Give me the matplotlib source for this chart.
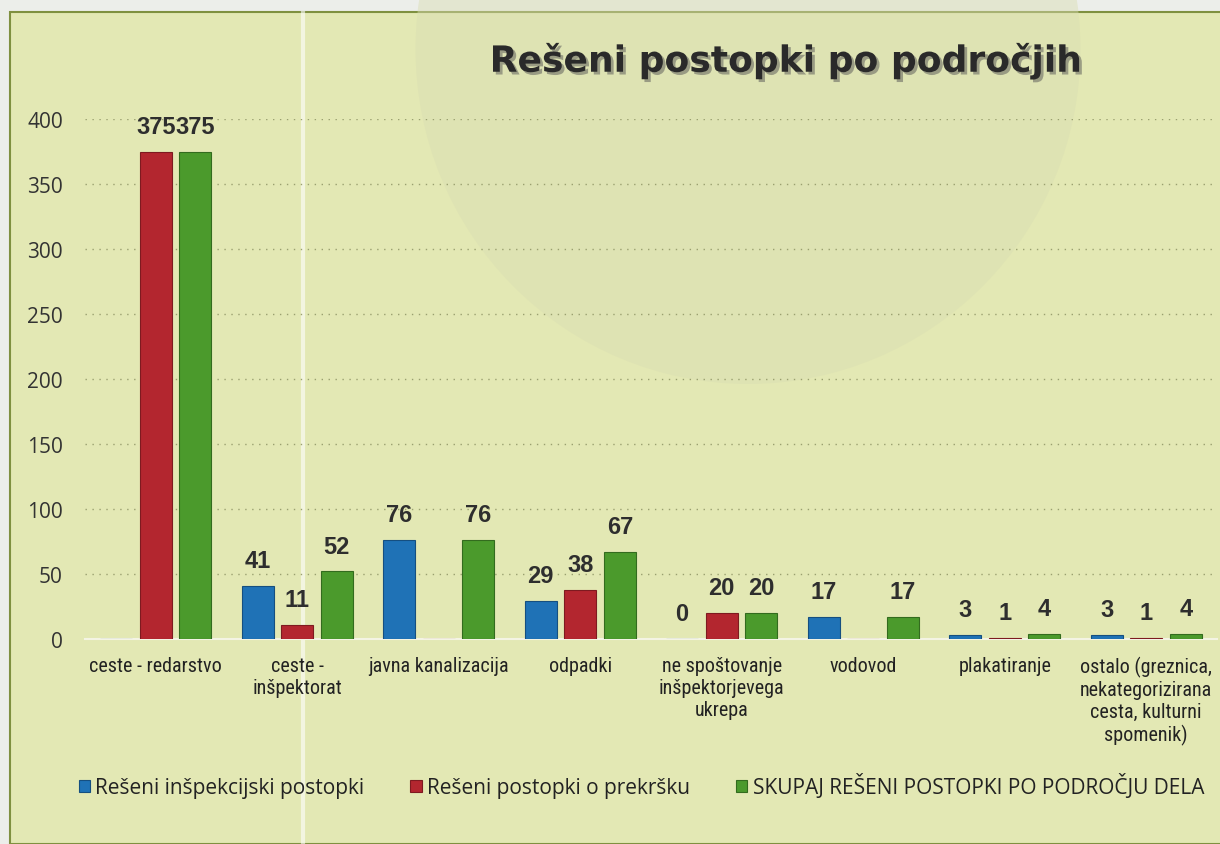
import numpy as np
import matplotlib.pyplot as plt
import matplotlib.patheffects as pe
from matplotlib import font_manager
from matplotlib.patches import Rectangle, Ellipse

categories = [
    "ceste - redarstvo",
    "ceste -\ninšpektorat",
    "javna kanalizacija",
    "odpadki",
    "ne spoštovanje\ninšpektorjevega\nukrepa",
    "vodovod",
    "plakatiranje",
    "ostalo (greznica,\nnekategorizirana\ncesta, kulturni\nspomenik)",
]
# None = no bar / no label in the original
inspekcijski = [None, 41, 76, 29, 0, 17, 3, 3]
prekrsek = [375, 11, None, 38, 20, None, 1, 1]
skupaj = [375, 52, 76, 67, 20, 17, 4, 4]

series_names = [
    "Rešeni inšpekcijski postopki",
    "Rešeni postopki o prekršku",
    "SKUPAJ REŠENI POSTOPKI PO PODROČJU DELA",
]
colors = ["#1f72b6", "#b3262f", "#4b9a2c"]
edges = ["#154f80", "#7e1a20", "#336b1e"]
yticks = [0, 50, 100, 150, 200, 250, 300, 350, 400]

bg = "#e3e8b4"

# narrow font for category labels if one is around
installed = {f.name for f in font_manager.fontManager.ttflist}
narrow = None
for name in ["Liberation Sans Narrow", "DejaVu Sans Condensed", "Roboto Condensed", "Open Sans Condensed"]:
    if name in installed:
        narrow = name
        break
if narrow:
    cat_font = {"family": narrow, "size": 14.5}
else:
    cat_font = {"family": "Liberation Sans", "size": 13}

fig = plt.figure(figsize=(12.2, 8.45), dpi=100)
fig.patch.set_facecolor("#eceeea")

# chart panel (scanned page look)
fig.add_artist(Rectangle((10 / 1220, 0), 1, 1 - 13 / 845, transform=fig.transFigure,
                         facecolor=bg, edgecolor="#7f9040", lw=1.5, zorder=-10))
fig.add_artist(Ellipse((748 / 1220, 1 - 50 / 845), 665 / 1220, 670 / 845,
                       transform=fig.transFigure, facecolor="#d9ddb2", edgecolor="none",
                       alpha=0.45, zorder=-9))
fig.add_artist(plt.Line2D([303 / 1220, 303 / 1220], [0, 1 - 14 / 845], transform=fig.transFigure,
                          color="white", lw=3, alpha=0.6, zorder=-8))

ax = fig.add_axes([85 / 1220, (845 - 640) / 845, 1132 / 1220, 520 / 845])
ax.set_facecolor("none")

x = np.arange(len(categories))
w = 0.226
step = 0.28
all_series = [inspekcijski, prekrsek, skupaj]
for i, vals in enumerate(all_series):
    xs = x + (i - 1) * step
    h = [v if v is not None else 0 for v in vals]
    ax.bar(xs, h, width=w, color=colors[i], edgecolor=edges[i], lw=0.8, zorder=3,
           label=series_names[i])
    for xi, v in zip(xs, vals):
        if v is None:
            continue
        ax.annotate(str(v), (xi, v), xytext=(0, 10), textcoords="offset points",
                    ha="center", va="bottom", fontsize=17, fontweight="bold",
                    family="Liberation Sans", color="#2e2e2e", zorder=5)

ax.set_xlim(-0.5, len(categories) - 0.5)
ax.set_ylim(0, 400)
ax.set_yticks(yticks)
ax.set_yticklabels([str(t) for t in yticks], family="Open Sans", fontsize=15, color="#333333")
ax.set_xticks(x)
ax.set_xticklabels(categories, family=cat_font["family"], fontsize=cat_font["size"],
                   color="#222222", linespacing=1.2)
ax.tick_params(axis="both", length=0)
ax.tick_params(axis="y", pad=16)
ax.tick_params(axis="x", pad=12)
ax.grid(axis="y", linestyle=(0, (1, 4)), color="#9aa070", lw=1, zorder=0)
for s in ["top", "right", "left"]:
    ax.spines[s].set_visible(False)
ax.spines["bottom"].set_color("#f4f4e4")
ax.spines["bottom"].set_linewidth(1.5)

fig.text(786 / 1220, 1 - 62 / 845, "Rešeni postopki po področjih", ha="center", va="center",
         fontsize=26, fontweight="bold", family="DejaVu Sans", color="#2a2a2a",
         path_effects=[pe.withSimplePatchShadow(offset=(2, -2), shadow_rgbFace="#555555", alpha=0.5)])

handles, labels = ax.get_legend_handles_labels()
leg = fig.legend(handles, labels, loc="center left", bbox_to_anchor=(60 / 1220, 1 - 787 / 845),
                 ncol=3, frameon=False, handlelength=0.55, handleheight=0.55, handletextpad=0.25,
                 columnspacing=2.2, prop={"family": "Open Sans", "size": 15})
for t in leg.get_texts():
    t.set_color("#222222")

fig.savefig("out.png", dpi=100)
